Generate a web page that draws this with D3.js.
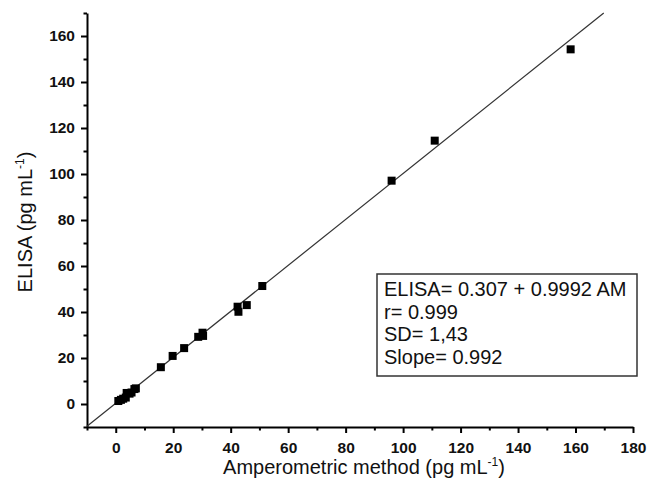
<!DOCTYPE html>
<html>
<head>
<meta charset="utf-8">
<script src="https://cdn.jsdelivr.net/npm/d3@7"></script>
<style>
  body { margin: 0; background: #fff; }
  svg { display: block; }
  text { font-family: "Liberation Sans", Arial, sans-serif; }
</style>
</head>
<body>
<svg></svg>
<script>
// values
let amperometric = [0.9, 1.8, 2.6, 3.5, 3.8, 4.8, 5.5, 6.5, 7.0, 15.7, 19.8, 23.8, 28.7, 30.2, 30.4, 42.4, 42.7, 45.6, 51.0, 96.0, 111.0, 158.3];
let elisa        = [1.3, 1.8, 2.3, 2.8, 4.8, 4.5, 5.0, 6.5, 6.8, 16.0, 20.9, 24.3, 29.2, 31.0, 29.6, 42.3, 40.1, 43.0, 51.3, 97.1, 114.5, 154.2];
let fitIntercept = 0.307;
let fitSlope = 0.9992;
let xTicks = [0, 20, 40, 60, 80, 100, 120, 140, 160, 180];
let yTicks = [0, 20, 40, 60, 80, 100, 120, 140, 160];
let statLines = ["ELISA= 0.307 + 0.9992 AM", "r= 0.999", "SD= 1,43", "Slope= 0.992"];

let w = 648;
let h = 491;
let margin = {left: 87, right: 15, top: 13, bottom: 64};
let svg = d3.select('svg').attr('width', w).attr('height', h);

let x = d3.scaleLinear().domain([-10, 180]).range([margin.left, w - margin.right]);
let y = d3.scaleLinear().domain([-10, 170]).range([h - margin.bottom, margin.top]);

let points = amperometric.map((v, i) => ({x: v, y: elisa[i]}));

// minor ticks first, then major ticks with labels
let xMinor = d3.range(-10, 181, 10).filter(v => !xTicks.includes(v));
let yMinor = d3.range(-10, 171, 10).filter(v => !yTicks.includes(v));

svg.append('g')
    .attr('transform', `translate(0,${y(-10)})`)
    .call(d3.axisBottom(x).tickValues(xMinor).tickSize(3.5).tickFormat(''))
    .call(g => g.select('.domain').remove());
svg.append('g')
    .attr('transform', `translate(${x(-10)},0)`)
    .call(d3.axisLeft(y).tickValues(yMinor).tickSize(3.5).tickFormat(''))
    .call(g => g.select('.domain').remove());

let xAxis = svg.append('g')
    .attr('transform', `translate(0,${y(-10)})`)
    .call(d3.axisBottom(x).tickValues(xTicks).tickSize(6).tickSizeOuter(0).tickPadding(9));
let yAxis = svg.append('g')
    .attr('transform', `translate(${x(-10)},0)`)
    .call(d3.axisLeft(y).tickValues(yTicks).tickSize(6).tickSizeOuter(0).tickPadding(6));

svg.selectAll('.tick line').attr('stroke', '#000').attr('stroke-width', 2);
svg.selectAll('.domain').attr('stroke', '#000').attr('stroke-width', 2);
svg.selectAll('.tick text')
    .attr('fill', '#111')
    .style('font-size', '15.5px')
    .style('font-weight', 'bold')
    .style('font-family', '"Liberation Sans", Arial, sans-serif');

// regression line, clipped at the top of the y range
let xEnd = (170 - fitIntercept) / fitSlope;
svg.append('line')
    .attr('x1', x(-10)).attr('y1', y(fitIntercept + fitSlope * -10))
    .attr('x2', x(xEnd)).attr('y2', y(170))
    .attr('stroke', '#333')
    .attr('stroke-width', 1.2);

svg.selectAll('rect.pt')
    .data(points)
    .enter()
    .append('rect')
    .attr('class', 'pt')
    .attr('x', d => x(d.x) - 4)
    .attr('y', d => y(d.y) - 4)
    .attr('width', 8)
    .attr('height', 8)
    .attr('fill', '#000');

// axis titles
let xt = svg.append('text')
    .attr('x', 364)
    .attr('y', 474)
    .attr('text-anchor', 'middle')
    .style('font-size', '20px')
    .attr('fill', '#111');
xt.append('tspan').text('Amperometric method (pg mL');
xt.append('tspan').text('-1').attr('dy', -8).style('font-size', '12px');
xt.append('tspan').text(')').attr('dy', 8);

let yt = svg.append('text')
    .attr('transform', 'translate(32,222) rotate(-90)')
    .attr('text-anchor', 'middle')
    .style('font-size', '20px')
    .attr('fill', '#111');
yt.append('tspan').text('ELISA (pg mL');
yt.append('tspan').text('-1').attr('dy', -8).style('font-size', '12px');
yt.append('tspan').text(')').attr('dy', 8);

// stats box
let box = svg.append('g');
box.append('rect')
    .attr('x', 377).attr('y', 274)
    .attr('width', 260).attr('height', 102)
    .attr('fill', '#fff')
    .attr('stroke', '#333')
    .attr('stroke-width', 1.5);
box.selectAll('text')
    .data(statLines)
    .enter()
    .append('text')
    .attr('x', 384)
    .attr('y', (d, i) => 296 + i * 22.5)
    .style('font-size', '20px')
    .attr('fill', '#111')
    .text(d => d);
</script>
</body>
</html>
